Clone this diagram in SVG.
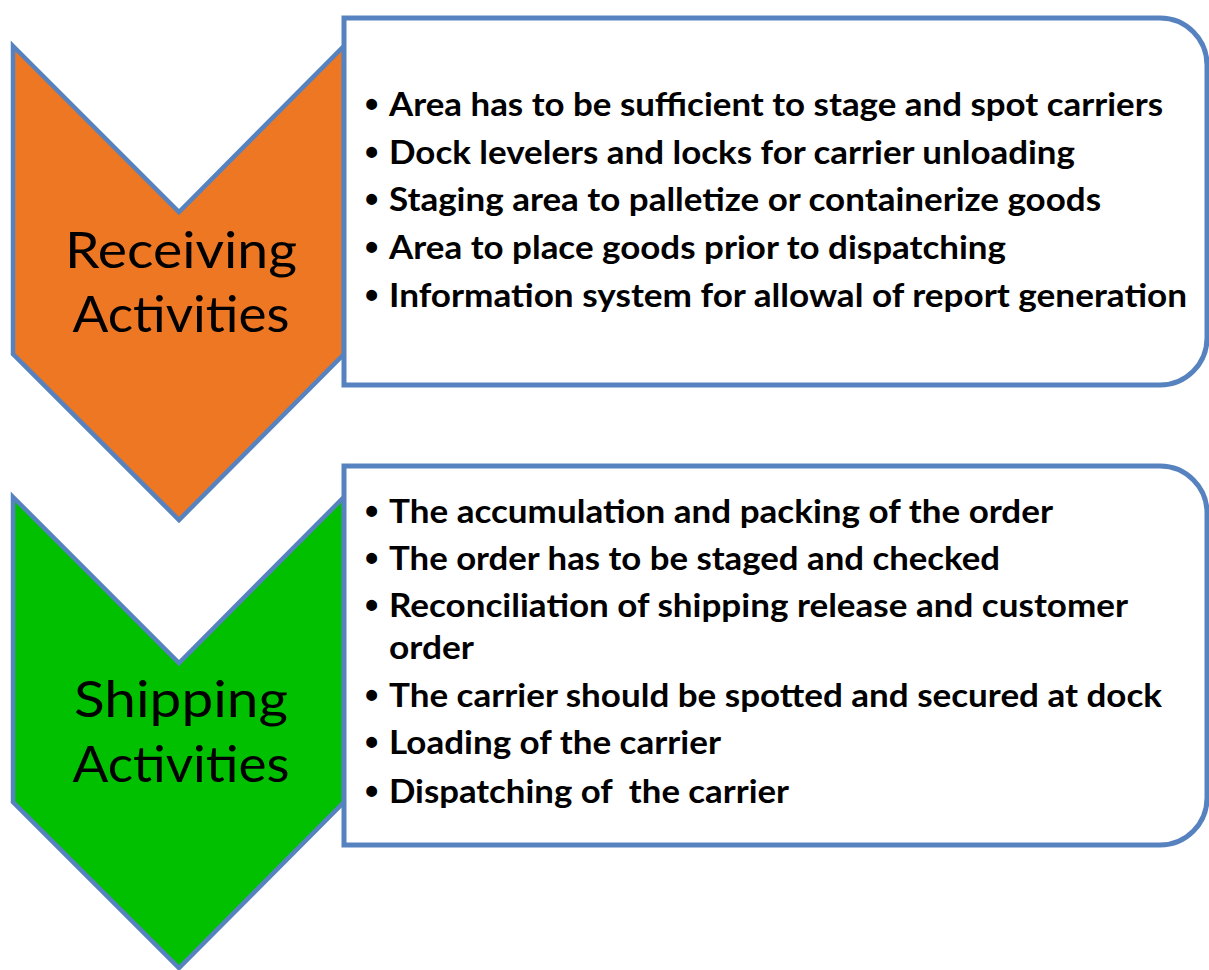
<svg xmlns="http://www.w3.org/2000/svg" width="1209" height="970" viewBox="0 0 1209 970">
  <style>
    .chev { stroke: #5683BF; stroke-width: 4.5; stroke-linejoin: miter; }
    .box { fill: #FFFFFF; stroke: #5683BF; stroke-width: 5; }
    .lbl { font-family: Lato, "Liberation Sans", sans-serif; font-size: 51px; fill: #000; text-anchor: middle; }
    .item { font-family: Lato, "Liberation Sans", sans-serif; font-size: 32px; font-weight: bold; fill: #000; }
    .bul { font-family: "Liberation Sans", sans-serif; font-size: 38px; font-weight: bold; fill: #000; }
  </style>
  <rect width="1209" height="970" fill="#FFFFFF"/>
  <g id="receiving">
    <polygon class="chev" fill="#ED7722" points="13,46 179,212 344,46 344,354 179,520 13,354"/>
    <path class="box" d="M344,18 H1160 A47,47 0 0 1 1207,65 V338 A47,47 0 0 1 1160,385 H344 Z"/>
    <text class="lbl" x="181" y="268" textLength="232" lengthAdjust="spacingAndGlyphs">Receiving</text>
    <text class="lbl" x="181" y="332" textLength="217" lengthAdjust="spacingAndGlyphs">Activities</text>
    <g>
      <text class="bul" x="365" y="117">•</text>
      <text class="item" x="389" y="116" textLength="774" lengthAdjust="spacingAndGlyphs">Area has to be sufficient to stage and spot carriers</text>
      <text class="bul" x="365" y="165">•</text>
      <text class="item" x="389" y="164" textLength="686" lengthAdjust="spacingAndGlyphs">Dock levelers and locks for carrier unloading</text>
      <text class="bul" x="365" y="212">•</text>
      <text class="item" x="389" y="211" textLength="712" lengthAdjust="spacingAndGlyphs">Staging area to palletize or containerize goods</text>
      <text class="bul" x="365" y="260">•</text>
      <text class="item" x="389" y="259" textLength="617" lengthAdjust="spacingAndGlyphs">Area to place goods prior to dispatching</text>
      <text class="bul" x="365" y="308">•</text>
      <text class="item" x="389" y="307" textLength="798" lengthAdjust="spacingAndGlyphs">Information system for allowal of report generation</text>
    </g>
  </g>
  <g id="shipping">
    <polygon class="chev" fill="#00C000" points="13,497 179,663 344,497 344,802 179,968 13,802"/>
    <path class="box" d="M344,466 H1160 A47,47 0 0 1 1207,513 V798 A47,47 0 0 1 1160,845 H344 Z"/>
    <text class="lbl" x="181" y="717" textLength="214" lengthAdjust="spacingAndGlyphs">Shipping</text>
    <text class="lbl" x="181" y="782" textLength="217" lengthAdjust="spacingAndGlyphs">Activities</text>
    <g>
      <text class="bul" x="365" y="524">•</text>
      <text class="item" x="389" y="523" textLength="664" lengthAdjust="spacingAndGlyphs">The accumulation and packing of the order</text>
      <text class="bul" x="365" y="571">•</text>
      <text class="item" x="389" y="570" textLength="611" lengthAdjust="spacingAndGlyphs">The order has to be staged and checked</text>
      <text class="bul" x="365" y="618">•</text>
      <text class="item" x="389" y="617" textLength="739" lengthAdjust="spacingAndGlyphs">Reconciliation of shipping release and customer</text>
      <text class="item" x="389" y="659" textLength="85" lengthAdjust="spacingAndGlyphs">order</text>
      <text class="bul" x="365" y="708">•</text>
      <text class="item" x="389" y="707" textLength="773" lengthAdjust="spacingAndGlyphs">The carrier should be spotted and secured at dock</text>
      <text class="bul" x="365" y="755">•</text>
      <text class="item" x="389" y="754" textLength="332" lengthAdjust="spacingAndGlyphs">Loading of the carrier</text>
      <text class="bul" x="365" y="804">•</text>
      <text class="item" x="389" y="803" textLength="400" lengthAdjust="spacingAndGlyphs" xml:space="preserve">Dispatching of  the carrier</text>
    </g>
  </g>
</svg>
